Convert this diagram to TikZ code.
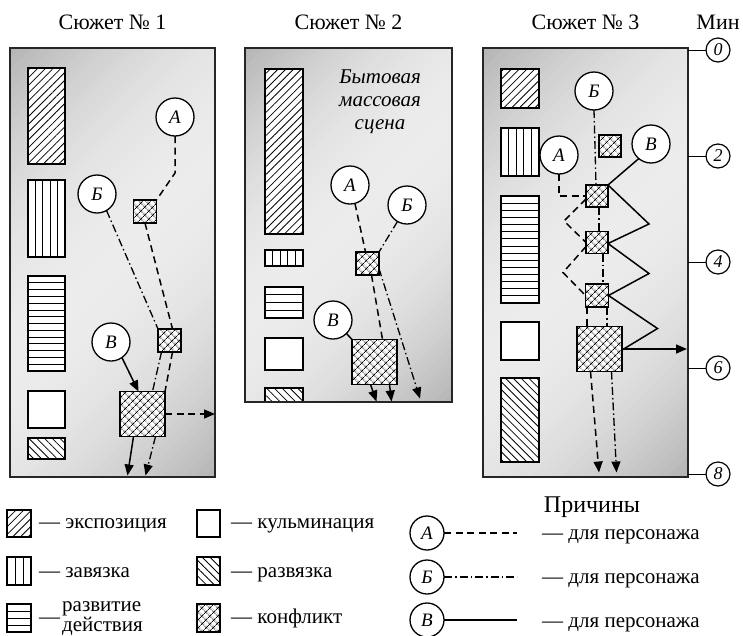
\documentclass[tikz,border=0pt]{standalone}
\usepackage{fontspec}
\setmainfont{Liberation Serif}
\usetikzlibrary{arrows.meta,patterns.meta,calc}
\newcommand\GradPanel[4]{%
  \begin{scope}
    \clip (#1,#2) rectangle (#3,#4);
    \foreach \i in {0,...,59} {
      \pgfmathsetmacro\sa{(#3-#1+#4-#2)/60*\i}
      \pgfmathsetmacro\sb{(#3-#1+#4-#2)/60*(\i+1)+0.8}
      \pgfmathsetmacro\gv{15+44*(2*(\i+0.5)/60-1)^2}
      \fill[gray!\gv] ({#1+\sa},#2) -- ({#1+\sb},#2) -- (#1,{#2+\sb}) -- (#1,{#2+\sa}) -- cycle;
    }
  \end{scope}
  \draw[pborder] (#1,#2) rectangle (#3,#4);
}
\begin{document}
\begin{tikzpicture}[x=1pt,y=-1pt,
 pborder/.style={draw=black!85, line width=1.8pt},
 box/.style={draw=black, line width=1.5pt},
 wbox/.style={box, fill=white},
 expo/.style={box, preaction={fill=white}, pattern={Lines[angle=45,distance=5.5pt,line width=0.8pt]}},
 razv/.style={box, preaction={fill=white}, pattern={Lines[angle=-45,distance=5.5pt,line width=0.8pt]}},
 confpat/.style={preaction={fill=white}, pattern={Hatch[angle=45,distance=5.4pt,line width=0.8pt]}},
 conf/.style={draw, line width=1.5pt, confpat, minimum size=23pt, inner sep=0pt, outer sep=0pt},
 bigconf/.style={conf, minimum size=45pt},
 stripe/.style={line width=0.8pt},
 circ/.style={circle, draw, line width=1.3pt, fill=white, minimum size=38pt, inner sep=0pt, outer sep=0pt, font=\fontsize{19}{19}\selectfont\itshape},
 lcirc/.style={circ, minimum size=34pt},
 scl/.style={circle, draw, line width=1.2pt, fill=white, minimum size=24pt, inner sep=0pt, outer sep=0pt, font=\fontsize{18}{18}\selectfont\itshape},
 dA/.style={line width=1.5pt, dash pattern=on 7pt off 4.5pt},
 dB/.style={line width=1.3pt, dash pattern=on 8pt off 3pt on 1.5pt off 3pt},
 dV/.style={line width=1.5pt},
 arr/.style={-{Triangle[length=11pt,width=9pt]}},
 txt/.style={font=\fontsize{21}{22}\selectfont, inner sep=0pt},
 ttl/.style={font=\fontsize{22}{24}\selectfont, inner sep=0pt},
 itxt/.style={font=\fontsize{21}{22}\selectfont\itshape, inner sep=0pt},
 tick/.style={line width=1pt}
]
\useasboundingbox (0,0) rectangle (743,635);

% titles
\node[ttl, anchor=base] (t1) at (112.5,29) {Сюжет № 1};
\node[ttl, anchor=base] (t2) at (348.5,29) {Сюжет № 2};
\node[ttl, anchor=base] (t3) at (585.5,29) {Сюжет № 3};
\node[ttl, anchor=base] (tm) at (718,29) {Мин};

% panel backgrounds
\GradPanel{10}{48}{215}{477}
\GradPanel{245}{48}{452}{402}
\GradPanel{483}{48}{688}{477}

% ===== Panel 1 =====
\draw[expo] (28,68) rectangle (65,164);
\draw[wbox] (28,180) rectangle (65,257);
\foreach \i in {1,...,4} \draw[stripe] ({28+37*\i/5},180) -- ({28+37*\i/5},257);
\draw[wbox] (28,276) rectangle (65,371);
\foreach \i in {1,...,13} \draw[stripe] (28,{276+95*\i/14}) -- (65,{276+95*\i/14});
\draw[wbox] (28,391) rectangle (65,428);
\draw[razv] (28,438) rectangle (65,459);

\node[conf] (p1c1) at (145,211.5) {};
\node[conf] (p1c2) at (169.5,340.5) {};
\node[bigconf] (p1big) at (142.5,414) {};
\node[circ] (p1A) at (175,117) {А};
\node[circ] (p1B) at (97,194) {Б};
\node[circ] (p1V) at (111,342) {В};

\draw[dA] (p1A.south) -- ++(0,37) -- (p1c1.north east);
\draw[dA] (p1c1.south) -- ($(p1c2.north)+(3,0)$);
\draw[dA] ($(p1c2.south)+(3,0)$) -- (p1big.north east);
\draw[dA, arr] (p1big.east) -- ++(50,0);
\draw[dB] (p1B.-60) -- (p1c2.north west);
\draw[dB] ($(p1c2.south)+(-8,0)$) -- ($(p1big.north)+(10,0)$);
\draw[dB, arr] ($(p1big.south)+(13,0)$) -- ++(-10,39);
\draw[dV, arr] (p1V.-55) -- ($(p1big.north)+(-4,0)$);
\draw[dV, arr] ($(p1big.south)+(-9,0)$) -- ++(-6,39);

% ===== Panel 2 =====
\draw[expo] (265,69) rectangle (303,234);
\draw[wbox] (265,250) rectangle (303,266);
\foreach \i in {1,...,4} \draw[stripe] ({265+38*\i/5},250) -- ({265+38*\i/5},266);
\draw[wbox] (265,287) rectangle (303,318);
\foreach \i in {1,...,3} \draw[stripe] (265,{287+31*\i/4}) -- (303,{287+31*\i/4});
\draw[wbox] (265,338) rectangle (303,370);
\draw[razv] (265,388) rectangle (303,402);
\draw[pborder] (245,48) rectangle (452,402);

\node[itxt, anchor=base] (sc1) at (380,83) {Бытовая};
\node[itxt, anchor=base] (sc2) at (380,106) {массовая};
\node[itxt, anchor=base] (sc3) at (380,129) {сцена};

\node[conf] (p2c1) at (367.5,263.5) {};
\node[bigconf] (p2big) at (374.5,362) {};
\node[circ] (p2A) at (350,185) {А};
\node[circ] (p2B) at (407,205) {Б};
\node[circ] (p2V) at (333,320) {В};

\draw[dA] (p2A.-75) -- ($(p2c1.north)+(-2,0)$);
\draw[dA] ($(p2c1.south)+(4,0)$) -- ($(p2big.north)+(8,0)$);
\draw[dA, arr] ($(p2big.south)+(-4,0)$) -- ++(6,17);
\draw[dB] (p2B.-120) -- (p2c1.north east);
\draw[dB, arr] ($(p2c1.east)+(0,5)$) -- ++(41,130);
\draw[dV] (p2V.-45) -- (p2big.north west);
\draw[dV, arr] ($(p2big.south)+(15,0)$) -- ++(2,17);

% ===== Panel 3 =====
\draw[expo] (501,69) rectangle (539,108);
\draw[wbox] (501,128) rectangle (539,176);
\foreach \i in {1,...,4} \draw[stripe] ({501+38*\i/5},128) -- ({501+38*\i/5},176);
\draw[wbox] (501,196) rectangle (539,303);
\foreach \i in {1,...,14} \draw[stripe] (501,{196+107*\i/15}) -- (539,{196+107*\i/15});
\draw[wbox] (501,322) rectangle (539,360);
\draw[razv] (501,378) rectangle (539,462);

\node[conf, minimum size=22pt] (p3c0) at (610,146) {};
\node[conf, minimum size=22pt] (p3c1) at (597,196) {};
\node[conf, minimum size=22pt] (p3c2) at (597,242.5) {};
\node[conf] (p3c3) at (597,295.5) {};
\node[bigconf] (p3big) at (599.5,349) {};
\node[circ] (p3B) at (594,91) {Б};
\node[circ] (p3A) at (559,155) {А};
\node[circ] (p3V) at (651,144) {В};

\draw[dB] (p3B.south) -- ($(p3c1.north)+(-1,0)$);
\draw[dB] ($(p3c1.south)+(2,0)$) -- ($(p3c2.north)+(2,0)$);
\draw[dB] ($(p3c2.south)+(6,0)$) -- ($(p3c3.north)+(6,0)$);
\draw[dB] ($(p3c3.south)+(10,0)$) -- ($(p3big.north)+(7.5,0)$);
\draw[dB, arr] ($(p3big.south)+(12,0)$) -- ++(5,101);

\draw[dA] (p3A.south) -- (p3A.south |- p3c1.west) -- (p3c1.west);
\draw[dA] ($(p3c1.west)+(0,3)$) -- ++(-22,22) -- (p3c2.west);
\draw[dA] ($(p3c2.west)+(0,4)$) -- ++(-23,26) -- (p3c3.west);
\draw[dA] ($(p3c3.south)+(-10,0)$) -- ($(p3big.north)+(-12.5,0)$);
\draw[dA, arr] ($(p3big.south)+(-9,0)$) -- ++(8.5,101);

\draw[dV] (p3V.-130) -- (p3c1.north east) -- ++(41,39) -- ($(p3c2.east)+(0,1)$)
  -- ++(41,30) -- (p3c3.east) -- ++(49,33) -- ($(p3big.east)+(0,1)$);
\draw[dV, arr] (p3big.east) -- ++(65,0);

% scale
\node[scl] (s0) at (718,50) {0};
\node[scl] (s2) at (718,156) {2};
\node[scl] (s4) at (718,262) {4};
\node[scl] (s6) at (718,368) {6};
\node[scl] (s8) at (718,474) {8};
\foreach \s in {s0,s2,s4,s6,s8} \draw[tick] (\s.west) -- ++(-18,0);

% ===== Legend left =====
\draw[expo] (7,510) rectangle (31,537);
\node[txt, anchor=base west] (l1) at (39,528) {— экспозиция};
\draw[wbox] (7,557) rectangle (31,585);
\foreach \i in {1,2} \draw[stripe] ({7+24*\i/3},557) -- ({7+24*\i/3},585);
\node[txt, anchor=base west] (l2) at (39,577) {— завязка};
\draw[wbox] (7,604) rectangle (31,632);
\foreach \i in {1,2,3} \draw[stripe] (7,{604+28*\i/4}) -- (31,{604+28*\i/4});
\node[txt, anchor=base west] (l3d) at (39,623) {—};
\node[txt, font=\fontsize{21}{18}\selectfont, align=left, anchor=west] (l3) at (62,618.5) {развитие\\действия};

\draw[wbox] (197,510) rectangle (220,537);
\node[txt, anchor=base west] (l4) at (231,528) {— кульминация};
\draw[razv] (197,557) rectangle (220,585);
\node[txt, anchor=base west] (l5) at (231,577) {— развязка};
\draw[box, confpat] (197,604) rectangle (220,632);
\node[txt, anchor=base west] (l6) at (231,623) {— конфликт};

% ===== Legend right =====
\node[txt, font=\fontsize{24}{26}\selectfont, anchor=base] (pr) at (592,512) {Причины};
\node[lcirc] (lA) at (427,533) {А};
\node[lcirc] (lB) at (427,577) {Б};
\node[lcirc] (lV) at (427,620) {В};
\draw[dA] (lA.east) -- ++(73,0);
\draw[dB] (lB.east) -- ++(73,0);
\draw[dV] (lV.east) -- ++(73,0);
\node[txt, anchor=base west] (rA) at (542,539) {— для персонажа};
\node[txt, anchor=base west] (rB) at (542,583) {— для персонажа};
\node[txt, anchor=base west] (rV) at (542,627) {— для персонажа};
\end{tikzpicture}
\end{document}
